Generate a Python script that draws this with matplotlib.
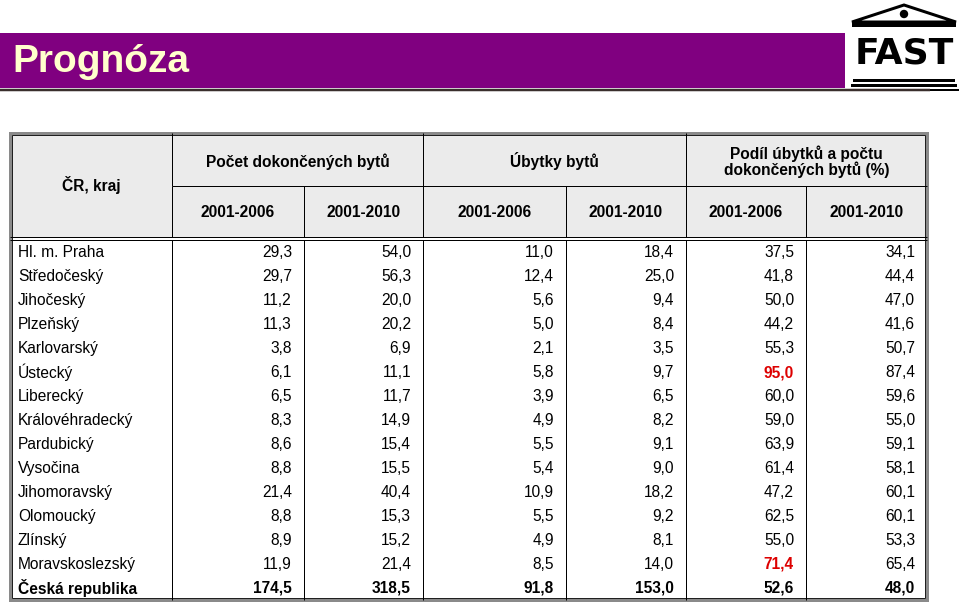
import matplotlib
matplotlib.use("Agg")
import matplotlib.pyplot as plt
from matplotlib.patches import Rectangle, Polygon, Circle

plt.rcParams['font.family'] = ['Liberation Sans', 'DejaVu Sans']

# ---------------- data ----------------
title = "Prognóza"
corner_label = "ČR, kraj"
group_labels = ["Počet dokončených bytů", "Úbytky bytů", "Podíl úbytků a počtu\ndokončených bytů (%)"]
period_labels = ["2001-2006", "2001-2010", "2001-2006", "2001-2010", "2001-2006", "2001-2010"]
regions = ["Hl. m. Praha", "Středočeský", "Jihočeský", "Plzeňský", "Karlovarský", "Ústecký",
           "Liberecký", "Královéhradecký", "Pardubický", "Vysočina", "Jihomoravský",
           "Olomoucký", "Zlínský", "Moravskoslezský", "Česká republika"]
dokoncene_2006 = [29.3, 29.7, 11.2, 11.3, 3.8, 6.1, 6.5, 8.3, 8.6, 8.8, 21.4, 8.8, 8.9, 11.9, 174.5]
dokoncene_2010 = [54.0, 56.3, 20.0, 20.2, 6.9, 11.1, 11.7, 14.9, 15.4, 15.5, 40.4, 15.3, 15.2, 21.4, 318.5]
ubytky_2006 = [11.0, 12.4, 5.6, 5.0, 2.1, 5.8, 3.9, 4.9, 5.5, 5.4, 10.9, 5.5, 4.9, 8.5, 91.8]
ubytky_2010 = [18.4, 25.0, 9.4, 8.4, 3.5, 9.7, 6.5, 8.2, 9.1, 9.0, 18.2, 9.2, 8.1, 14.0, 153.0]
podil_2006 = [37.5, 41.8, 50.0, 44.2, 55.3, 95.0, 60.0, 59.0, 63.9, 61.4, 47.2, 62.5, 55.0, 71.4, 52.6]
podil_2010 = [34.1, 44.4, 47.0, 41.6, 50.7, 87.4, 59.6, 55.0, 59.1, 58.1, 60.1, 60.1, 53.3, 65.4, 48.0]
highlight = [(5, 4), (13, 4)]  # (row, value column) shown in red

columns = [dokoncene_2006, dokoncene_2010, ubytky_2006, ubytky_2010, podil_2006, podil_2010]

# ---------------- layout (pixels) ----------------
W, H = 960, 603
fig = plt.figure(figsize=(W / 100, H / 100), dpi=100)
ax = fig.add_axes([0, 0, 1, 1])
ax.set_xlim(0, W)
ax.set_ylim(H, 0)
ax.axis('off')
PX = 0.72  # points per pixel

def hline(x0, x1, y, lw=1, color='black'):
    ax.plot([x0, x1], [y, y], color=color, lw=lw * PX, solid_capstyle='butt')

def vline(x, y0, y1, lw=1, color='black'):
    ax.plot([x, x], [y0, y1], color=color, lw=lw * PX, solid_capstyle='butt')

# title bar
ax.add_patch(Rectangle((0, 33), 845, 55, facecolor='#800080', edgecolor='none'))
hline(0, 930, 90, lw=2.5, color='#3a2e2c')
ax.text(12, 62, title, color='#FFFFCC', fontsize=28, fontweight='bold', va='center', ha='left')

# logo
ax.add_patch(Polygon([[852, 22], [904, 5], [956, 22]], closed=True, facecolor='white',
                     edgecolor='black', lw=3 * PX))
ax.add_patch(Circle((904, 14), 3.5, color='black'))
ax.add_patch(Rectangle((852, 23), 104, 4, facecolor='black'))
ax.text(904, 54, "FAST", fontsize=26, fontweight='bold', ha='center', va='center',
        color='black', family=['DejaVu Sans'])
ax.add_patch(Rectangle((853, 79), 102, 3, facecolor='black'))
ax.add_patch(Rectangle((851, 84), 106, 3, facecolor='black'))
ax.add_patch(Rectangle((849, 89), 110, 2, facecolor='black'))

# table geometry
left, right = 10, 927
top, head_mid, head_bot = 133, 186, 238
body_top, bottom = 241, 600
edges = [left, 172, 304, 423, 566, 686, 806, right]
n = len(regions)
row_h = (bottom - body_top) / n

# backgrounds
ax.add_patch(Rectangle((left, top), right - left, head_bot - top, facecolor='#ebebeb', edgecolor='none'))
ax.add_patch(Rectangle((left, body_top), right - left, bottom - body_top, facecolor='white', edgecolor='none'))

# inner lines
hline(edges[1], right, head_mid)
hline(left, right, 237)
hline(left, right, 240)
for x in (edges[1], edges[3], edges[5]):
    vline(x, top, head_mid)
for x in edges[1:-1]:
    vline(x, head_mid, 237)
    vline(x, 240, bottom)

# outer border (gray frame + dark inner line)
ax.add_patch(Rectangle((left, top), right - left, bottom - top, facecolor='none',
                       edgecolor='#8a8a8a', lw=3 * PX))
ax.add_patch(Rectangle((left + 2, top + 2), right - left - 4, bottom - top - 4, facecolor='none',
                       edgecolor='#202020', lw=1 * PX))

FS = 11.2
# header texts
ax.text((edges[0] + edges[1]) / 2, (top + head_bot) / 2, corner_label, fontsize=FS,
        fontweight='bold', ha='center', va='center')
for g, lab in enumerate(group_labels):
    cx = (edges[1 + 2 * g] + edges[3 + 2 * g]) / 2
    ax.text(cx, (top + head_mid) / 2 + 2, lab, fontsize=FS, fontweight='bold', ha='center',
            va='center', linespacing=1.0)
for j, lab in enumerate(period_labels):
    cx = (edges[1 + j] + edges[2 + j]) / 2
    ax.text(cx, (head_mid + 237) / 2 + 1, lab, fontsize=FS, fontweight='bold', ha='center', va='center')

# body
def fmt(v):
    return f"{v:.1f}".replace('.', ',')

for i, reg in enumerate(regions):
    cy = body_top + (i + 0.5) * row_h
    bold = (i == n - 1)
    ax.text(18, cy, reg, fontsize=FS, fontweight='bold' if bold else 'normal', ha='left', va='center')
    for j, col in enumerate(columns):
        red = (i, j) in highlight
        ax.text(edges[2 + j] - 12, cy, fmt(col[i]), fontsize=FS,
                fontweight='bold' if (bold or red) else 'normal',
                color='#dd0000' if red else 'black', ha='right', va='center')

fig.savefig("out.png", dpi=100)
